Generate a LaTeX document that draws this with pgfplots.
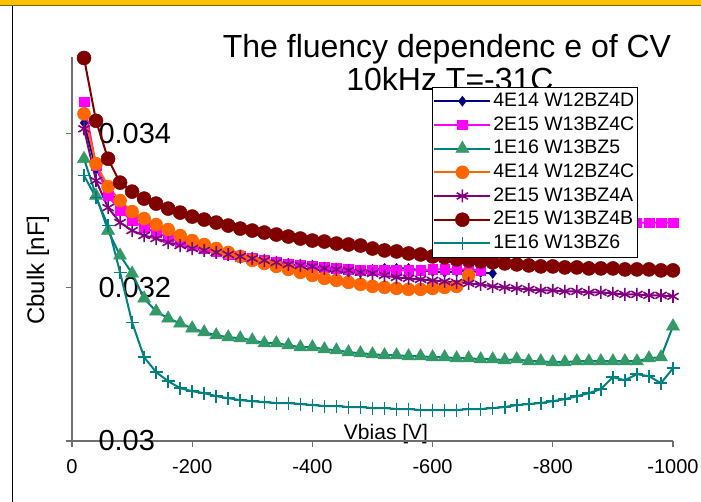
\documentclass[border=0pt]{standalone}
\usepackage{pgfplots}
\pgfplotsset{compat=1.18}
\usepackage{fontspec}
\setmainfont{Liberation Sans}
\definecolor{cnavy}{RGB}{0,0,128}
\definecolor{cmag}{RGB}{255,0,255}
\definecolor{cteal}{RGB}{0,128,128}
\definecolor{cgreen}{RGB}{51,153,102}
\definecolor{corange}{RGB}{255,102,0}
\definecolor{cpurple}{RGB}{128,0,128}
\definecolor{cmaroon}{RGB}{128,0,0}
\definecolor{cbar}{RGB}{255,192,0}
\definecolor{cbarline}{RGB}{128,100,20}
\definecolor{caxis}{RGB}{110,110,110}

\pgfplotstableread{
V C
-20 0.034143
-40 0.033545
-60 0.033260
-80 0.033091
-100 0.032974
-120 0.032883
-140 0.032818
-160 0.032727
-180 0.032636
-200 0.032545
-220 0.032494
-240 0.032455
-260 0.032416
-280 0.032377
-300 0.032338
-320 0.032312
-340 0.032286
-360 0.032260
-380 0.032247
-400 0.032234
-420 0.032221
-440 0.032208
-460 0.032195
-480 0.032195
-500 0.032234
-520 0.032247
-540 0.032247
-560 0.032247
-580 0.032221
-600 0.032208
-620 0.032195
-640 0.032208
-660 0.032221
-680 0.032195
-700 0.032182
}\navy

\pgfplotstableread{
V C
-20 0.034416
-40 0.033584
-60 0.033195
-80 0.033000
-100 0.032870
-120 0.032779
-140 0.032714
-160 0.032649
-180 0.032597
-200 0.032545
-220 0.032506
-240 0.032468
-260 0.032429
-280 0.032403
-300 0.032377
-320 0.032351
-340 0.032325
-360 0.032299
-380 0.032286
-400 0.032273
-420 0.032260
-440 0.032247
-460 0.032234
-480 0.032221
-500 0.032221
-520 0.032221
-540 0.032221
-560 0.032221
-580 0.032221
-600 0.032234
-620 0.032234
-640 0.032234
-660 0.032234
-680 0.032221
-700 nan
-900 0.032844
-920 0.032844
-940 0.032844
-960 0.032844
-980 0.032844
-1000 0.032844
}\magenta

\pgfplotstableread{
V C
-20 0.033675
-40 0.033195
-60 0.032740
-80 0.032416
-100 0.032182
-120 0.031857
-140 0.031688
-160 0.031597
-180 0.031532
-200 0.031468
-220 0.031416
-240 0.031377
-260 0.031351
-280 0.031338
-300 0.031312
-320 0.031273
-340 0.031273
-360 0.031247
-380 0.031221
-400 0.031221
-420 0.031195
-440 0.031182
-460 0.031156
-480 0.031143
-500 0.031130
-520 0.031117
-540 0.031117
-560 0.031104
-580 0.031104
-600 0.031091
-620 0.031091
-640 0.031078
-660 0.031078
-680 0.031065
-700 0.031065
-720 0.031052
-740 0.031065
-760 0.031039
-780 0.031039
-800 0.031026
-820 0.031026
-840 0.031039
-860 0.031039
-880 0.031039
-900 0.031039
-920 0.031039
-940 0.031039
-960 0.031078
-980 0.031091
-1000 0.031494
}\green

\pgfplotstableread{
V C
-20 0.034260
-40 0.033610
-60 0.033312
-80 0.033130
-100 0.032987
-120 0.032896
-140 0.032818
-160 0.032753
-180 0.032675
-200 0.032610
-220 0.032558
-240 0.032506
-260 0.032455
-280 0.032403
-300 0.032351
-320 0.032312
-340 0.032273
-360 0.032234
-380 0.032195
-400 0.032156
-420 0.032117
-440 0.032091
-460 0.032065
-480 0.032039
-500 0.032013
-520 0.032000
-540 0.031987
-560 0.031974
-580 0.031974
-600 0.031987
-620 0.032000
-640 0.032013
-660 0.032156
}\orange

\pgfplotstableread{
V C
-20 0.034065
-40 0.033390
-60 0.033039
-80 0.032844
-100 0.032740
-120 0.032675
-140 0.032636
-160 0.032584
-180 0.032545
-200 0.032506
-220 0.032481
-240 0.032455
-260 0.032429
-280 0.032403
-300 0.032377
-320 0.032351
-340 0.032325
-360 0.032299
-380 0.032286
-400 0.032273
-420 0.032247
-440 0.032234
-460 0.032221
-480 0.032195
-500 0.032182
-520 0.032156
-540 0.032130
-560 0.032117
-580 0.032104
-600 0.032091
-620 0.032078
-640 0.032065
-660 0.032052
-680 0.032039
-700 0.032013
-720 0.032000
-740 0.031987
-760 0.031974
-780 0.031961
-800 0.031961
-820 0.031948
-840 0.031948
-860 0.031935
-880 0.031935
-900 0.031922
-920 0.031909
-940 0.031909
-960 0.031896
-980 0.031896
-1000 0.031883
}\purple

\pgfplotstableread{
V C
-20 0.034987
-40 0.034169
-60 0.033675
-80 0.033364
-100 0.033247
-120 0.033156
-140 0.033091
-160 0.033026
-180 0.032974
-200 0.032922
-220 0.032883
-240 0.032844
-260 0.032805
-280 0.032766
-300 0.032740
-320 0.032714
-340 0.032688
-360 0.032662
-380 0.032636
-400 0.032610
-420 0.032597
-440 0.032571
-460 0.032558
-480 0.032545
-500 0.032506
-520 0.032481
-540 0.032468
-560 0.032442
-580 0.032429
-600 0.032403
-620 0.032390
-640 0.032364
-660 0.032351
-680 0.032338
-700 0.032325
-720 0.032312
-740 0.032299
-760 0.032286
-780 0.032273
-800 0.032273
-820 0.032260
-840 0.032260
-860 0.032247
-880 0.032247
-900 0.032247
-920 0.032234
-940 0.032234
-960 0.032234
-980 0.032221
-1000 0.032221
}\maroon

\pgfplotstableread{
V C
-20 0.033455
-40 0.033169
-60 0.032805
-80 0.032195
-100 0.031545
-120 0.031091
-140 0.030896
-160 0.030779
-180 0.030688
-200 0.030649
-220 0.030623
-240 0.030584
-260 0.030558
-280 0.030532
-300 0.030519
-320 0.030506
-340 0.030494
-360 0.030494
-380 0.030481
-400 0.030468
-420 0.030455
-440 0.030455
-460 0.030442
-480 0.030442
-500 0.030429
-520 0.030429
-540 0.030416
-560 0.030416
-580 0.030403
-600 0.030403
-620 0.030403
-640 0.030403
-660 0.030416
-680 0.030416
-700 0.030429
-720 0.030442
-740 0.030468
-760 0.030481
-780 0.030494
-800 0.030519
-820 0.030545
-840 0.030584
-860 0.030623
-880 0.030675
-900 0.030831
-920 0.030792
-940 0.030870
-960 0.030844
-980 0.030753
-1000 0.030948
}\tealp

\begin{document}
\begin{tikzpicture}
\useasboundingbox (0pt,0pt) rectangle (701pt,502pt);
\fill[white] (0pt,0pt) rectangle (701pt,502pt);
\fill[cbar] (0pt,497pt) rectangle (701pt,502pt);
\draw[cbarline, line width=1.2pt] (0pt,496.4pt) -- (701pt,496.4pt);
\draw[black, line width=1.2pt] (12.5pt,0pt) -- (12.5pt,495.8pt);
\node[font=\fontsize{32}{32}\selectfont, anchor=base, inner sep=0pt] at (447pt,444pt) {The fluency dependenc e of CV};
\node[font=\fontsize{32}{32}\selectfont, anchor=base, inner sep=0pt] at (450pt,411pt) {10kHz T=-31C};
\node[font=\fontsize{24}{24}\selectfont, rotate=90, inner sep=0pt] at (38pt,232pt) {Cbulk [nF]};
\node[font=\fontsize{21}{21}\selectfont, anchor=base, inner sep=0pt] at (386pt,62pt) {Vbias [V]};
\begin{axis}[
  scale only axis, width=601pt, height=384pt,
  at={(372.5pt,253pt)}, anchor=center,
  xmin=-1000, xmax=0, x dir=reverse,
  ymin=0.03, ymax=0.035,
  axis x line*=bottom, axis y line*=left,
  axis line style={caxis, line width=1.2pt},
  tick style={caxis, line width=1.2pt},
  tick align=outside, major tick length=6pt,
  xtick={0,-200,-400,-600,-800,-1000},
  xticklabels={0,-200,-400,-600,-800,-1000},
  ytick={0.03,0.032,0.034},
  yticklabels={0.03,0.032,0.034},
  scaled y ticks=false,
  xticklabel style={font=\fontsize{20}{20}\selectfont, yshift=-9pt},
  yticklabel style={font=\fontsize{29}{29}\selectfont, anchor=west, xshift=29pt},
  clip=false,
  unbounded coords=jump,
  legend cell align=left,
  legend style={at={(axis description cs:0.599,0.922)}, anchor=north west,
    draw=black, line width=0.8pt, fill=white,
    font=\fontsize{19.5}{19.5}\selectfont,
    inner xsep=1pt, inner ysep=2pt, row sep=0pt,
    nodes={inner xsep=2pt, inner ysep=2pt, text height=15pt, text depth=4.7pt}},
  legend image code/.code={\draw[mark repeat=2,mark phase=2,#1] plot coordinates {(0pt,0pt) (28pt,0pt) (56pt,0pt)};},
]
\addplot[cnavy, line width=2pt, mark=diamond*, mark size=5pt, mark options={fill=cnavy, line width=0.5pt}] table[x=V,y=C] {\navy};
\addlegendentry{4E14 W12BZ4D}
\addplot[cmag, line width=2pt, mark=square*, mark size=4.8pt, mark options={fill=cmag, line width=0.5pt}] table[x=V,y=C] {\magenta};
\addlegendentry{2E15 W13BZ4C}
\addplot[cteal, line width=2pt, mark=triangle*, mark size=7.5pt, mark options={fill=cgreen, draw=cgreen, line width=0.5pt}] table[x=V,y=C] {\green};
\addlegendentry{1E16 W13BZ5}
\addplot[corange, line width=2pt, mark=*, mark size=6.5pt, mark options={fill=corange, line width=0.5pt}] table[x=V,y=C] {\orange};
\addlegendentry{4E14 W12BZ4C}
\addplot[cpurple, line width=2pt, mark=asterisk, mark size=6.5pt, mark options={line width=1.6pt}] table[x=V,y=C] {\purple};
\addlegendentry{2E15 W13BZ4A}
\addplot[cmaroon, line width=2pt, mark=*, mark size=7pt, mark options={fill=cmaroon, line width=0.5pt}] table[x=V,y=C] {\maroon};
\addlegendentry{2E15 W13BZ4B}
\addplot[cteal, line width=2pt, mark=+, mark size=6.5pt, mark options={line width=1.6pt}] table[x=V,y=C] {\tealp};
\addlegendentry{1E16 W13BZ6}
\end{axis}
\end{tikzpicture}
\end{document}
